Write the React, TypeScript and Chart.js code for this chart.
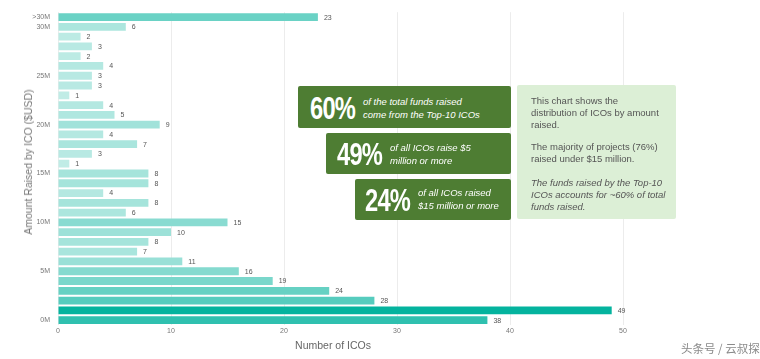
import React, { useEffect, useRef } from "react";
import { Chart, registerables } from "chart.js";
Chart.register(...registerables);

const categories = [
  ">30M", "30M", "29M", "28M", "27M", "26M", "25M", "24M", "23M", "22M", "21M",
  "20M", "19M", "18M", "17M", "16M", "15M", "14M", "13M", "12M", "11M",
  "10M", "9M", "8M", "7M", "6M", "5M", "4M", "3M", "2M", "1M", "0M",
];
const icoCounts = [
  23, 6, 2, 3, 2, 4, 3, 3, 1, 4, 5,
  9, 4, 7, 3, 1, 8, 8, 4, 8, 6,
  15, 10, 8, 7, 11, 16, 19, 24, 28, 49, 38,
];
const shownTicks = [">30M", "30M", "25M", "20M", "15M", "10M", "5M", "0M"];
const xTicks = [0, 10, 20, 30, 40, 50];

function barColor(v: number) {
  const t = Math.min(1, v / 50);
  const a = [196, 237, 231];
  const b = [0, 178, 157];
  const c = a.map((x, i) => Math.round(x + (b[i] - x) * t));
  return `rgb(${c[0]},${c[1]},${c[2]})`;
}

const valueLabels = {
  id: "valueLabels",
  afterDatasetsDraw(chart: any) {
    const ctx = chart.ctx;
    const meta = chart.getDatasetMeta(0);
    ctx.save();
    ctx.font = "7px 'Liberation Sans', Arial, sans-serif";
    ctx.fillStyle = "#555";
    ctx.textBaseline = "middle";
    ctx.textAlign = "left";
    meta.data.forEach((el: any, i: number) => {
      ctx.fillText(String(icoCounts[i]), el.x + 6, el.y + 0.5);
    });
    ctx.restore();
  },
};

export default function App() {
  const ref = useRef<HTMLCanvasElement>(null);
  useEffect(() => {
    document.body.style.margin = "0";
    const chart = new Chart(ref.current!, {
      type: "bar",
      data: {
        labels: categories,
        datasets: [
          {
            data: icoCounts,
            backgroundColor: icoCounts.map(barColor),
            categoryPercentage: 1,
            barPercentage: 0.8,
          },
        ],
      },
      options: {
        indexAxis: "y",
        animation: false,
        responsive: false,
        devicePixelRatio: 1,
        layout: { padding: { left: 0, top: 9, right: 137, bottom: 0 } },
        plugins: { legend: { display: false }, tooltip: { enabled: false } },
        scales: {
          x: {
            min: 0,
            max: 50,
            afterFit: (s: any) => { s.height = 34; },
            afterBuildTicks: (s: any) => { s.ticks = xTicks.map((v) => ({ value: v })); },
            grid: { color: "#ececec", drawTicks: false, lineWidth: 1 },
            border: { display: false },
            ticks: {
              padding: 2,
              color: "#777",
              font: { size: 7, family: "'Liberation Sans', Arial, sans-serif" },
            },
          },
          y: {
            afterFit: (s: any) => { s.width = 58; },
            grid: { display: false, drawTicks: false },
            border: { display: false },
            ticks: {
              autoSkip: false,
              padding: 8,
              color: "#777",
              font: { size: 7, family: "'Liberation Sans', Arial, sans-serif" },
              callback: (_v: any, i: number) =>
                shownTicks.includes(categories[i]) ? categories[i] : "",
            },
          },
        },
      },
      plugins: [valueLabels],
    });
    return () => chart.destroy();
  }, []);

  const sans = "'Liberation Sans', Arial, sans-serif";
  const big: React.CSSProperties = {
    position: "absolute",
    fontFamily: "'Liberation Sans', Arial, sans-serif",
    fontWeight: 700,
    fontSize: 32,
    color: "#fff",
    lineHeight: "32px",
    letterSpacing: "-1px",
    transform: "scaleX(0.74)",
    transformOrigin: "left top",
    whiteSpace: "nowrap",
  };
  const small: React.CSSProperties = {
    position: "absolute",
    fontFamily: sans,
    fontStyle: "italic",
    fontSize: 9.5,
    lineHeight: "12.5px",
    color: "#fff",
    whiteSpace: "nowrap",
  };
  const greenBox = (l: number, t: number, r: number, b: number): React.CSSProperties => ({
    position: "absolute",
    left: l,
    top: t,
    width: r - l,
    height: b - t,
    background: "#4e7d33",
    borderRadius: 2,
  });
  const info: React.CSSProperties = {
    position: "absolute",
    left: 531,
    fontFamily: sans,
    fontSize: 9.5,
    lineHeight: "11.8px",
    color: "#555",
    whiteSpace: "nowrap",
  };

  return (
    <div style={{ position: "absolute", left: 0, top: 0, width: 760, height: 359, background: "#fff", overflow: "hidden" }}>
      <canvas ref={ref} width={760} height={359} style={{ position: "absolute", left: 0, top: 0 }} />
      <div
        style={{
          position: "absolute",
          left: 28,
          top: 162,
          transform: "translate(-50%, -50%) rotate(-90deg)",
          fontFamily: sans,
          fontSize: 10.5,
          color: "#777",
          whiteSpace: "nowrap",
        }}
      >
        Amount Raised by ICO ($USD)
      </div>
      <div
        style={{
          position: "absolute",
          left: 333,
          top: 345,
          transform: "translate(-50%, -50%)",
          fontFamily: sans,
          fontSize: 10.5,
          color: "#666",
          whiteSpace: "nowrap",
        }}
      >
        Number of ICOs
      </div>

      <div style={greenBox(298, 86, 511, 128)} />
      <div style={{ ...big, left: 310, top: 92 }}>60%</div>
      <div style={{ ...small, left: 363, top: 96 }}>
        of the total funds raised<br />come from the Top-10 ICOs
      </div>

      <div style={greenBox(326, 133, 511, 174)} />
      <div style={{ ...big, left: 337, top: 138 }}>49%</div>
      <div style={{ ...small, left: 390, top: 142 }}>
        of all ICOs raise $5<br />million or more
      </div>

      <div style={greenBox(355, 179, 511, 220)} />
      <div style={{ ...big, left: 365, top: 184 }}>24%</div>
      <div style={{ ...small, left: 418, top: 187 }}>
        of all ICOs raised<br />$15 million or more
      </div>

      <div style={{ position: "absolute", left: 517, top: 85, width: 159, height: 134, background: "#dcefd6", borderRadius: 2 }} />
      <div style={{ ...info, top: 95 }}>
        This chart shows the<br />distribution of ICOs by amount<br />raised.
      </div>
      <div style={{ ...info, top: 141 }}>
        The majority of projects (76%)<br />raised under $15 million.
      </div>
      <div style={{ ...info, top: 177, fontStyle: "italic" }}>
        The funds raised by the Top-10<br />ICOs accounts for ~60% of total<br />funds raised.
      </div>

      <div
        style={{
          position: "absolute",
          left: 681,
          top: 340,
          fontFamily: "'Noto Sans CJK SC', sans-serif",
          fontSize: 11.5,
          color: "#8a8a8a",
          whiteSpace: "nowrap",
        }}
      >
        头条号 / 云叔探
      </div>
    </div>
  );
}
